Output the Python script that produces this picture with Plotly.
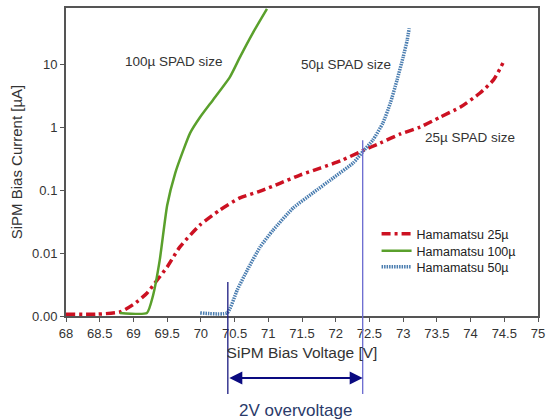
import math
import plotly.graph_objects as go

# ---- data ----
v25 = [68.0, 68.46, 68.80, 68.99, 69.20, 69.35, 69.50, 69.69, 69.99, 70.28, 70.58, 70.88,
       71.18, 71.47, 71.77, 72.07, 72.39, 72.66, 72.96, 73.25, 73.55, 73.85, 74.14, 74.34, 74.48]
i25 = [0.00107, 0.00107, 0.00116, 0.0015, 0.0023, 0.0037, 0.006, 0.0125, 0.028, 0.048, 0.075, 0.096,
       0.129, 0.173, 0.223, 0.29, 0.417, 0.557, 0.776, 1.0, 1.44, 2.08, 3.47, 5.6, 10.4]

v100 = [68.80, 69.20, 69.29, 69.39, 69.50, 69.62, 69.74, 69.84, 69.99, 70.18, 70.43, 70.58, 70.77, 70.98]
i100 = [0.00112, 0.00112, 0.0021, 0.0077, 0.057, 0.186, 0.43, 0.80, 1.44, 2.69, 6.2, 12.9, 31, 75]

v50 = [69.99, 70.39, 70.54, 70.69, 70.88, 71.07, 71.37, 71.66, 71.96, 72.26, 72.41, 72.55,
       72.70, 72.81, 72.91, 73.00, 73.06, 73.09]
i50 = [0.00112, 0.00112, 0.0026, 0.0054, 0.0125, 0.023, 0.052, 0.0896, 0.155, 0.27, 0.417, 0.62,
       1.16, 2.4, 5.6, 12.9, 24, 37]

x_ticks = [68, 68.5, 69, 69.5, 70, 70.5, 71, 71.5, 72, 72.5, 73, 73.5, 74, 74.5, 75]
y_tickvals = [0.001, 0.01, 0.1, 1, 10]
y_ticktext = ["0.00", "0.01", "0.1", "1", "10"]

v_start = 70.4   # breakdown marker
v_end = 72.4     # operating point marker

labels = [("100µ SPAD size", 69.595, 10.8), ("50µ SPAD size", 72.154, 10.0), ("25µ SPAD size", 73.994, 0.69)]

FONT = "Liberation Sans, Arial, sans-serif"

fig = go.Figure()
fig.add_trace(go.Scatter(x=v25, y=i25, mode="lines", name="Hamamatsu 25µ", legend="legend",
                         line=dict(color="#cc1122", width=3.5, dash="9px,4px,3px,4px",
                                   shape="spline", smoothing=0.6)))
fig.add_trace(go.Scatter(x=v100, y=i100, mode="lines", name="Hamamatsu 100µ", legend="legend2",
                         line=dict(color="#5aa02c", width=2.5, shape="spline", smoothing=0.5)))
fig.add_trace(go.Scatter(x=v50, y=i50, mode="lines", name="Hamamatsu 50µ", legend="legend3",
                         line=dict(color="#4a7db0", width=3.5, dash="1.5px,1px",
                                   shape="spline", smoothing=0.5)))

# vertical marker lines
fig.add_shape(type="line", xref="x", yref="paper", x0=v_start, x1=v_start, y0=-0.253, y1=0.110,
              line=dict(color="#1a1a80", width=1.3))
fig.add_shape(type="line", xref="x", yref="paper", x0=v_end, x1=v_end, y0=-0.253, y1=0.571,
              line=dict(color="#6a6ad0", width=1.3))

# double arrow
fig.add_annotation(x=v_end, y=-0.201, xref="x", yref="paper", ax=v_start, ay=0, axref="x", ayref="pixel",
                   text="", showarrow=True, arrowhead=2, startarrowhead=2, arrowside="end+start",
                   arrowsize=1.3, arrowwidth=2, arrowcolor="#0a0a80", standoff=0, startstandoff=0)
fig.add_annotation(x=(v_start + v_end) / 2, y=-0.306, xref="x", yref="paper", text="2V overvoltage",
                   showarrow=False, font=dict(family=FONT, size=17, color="#2a3a6a"), yanchor="middle")

for txt, xv, yv in labels:
    fig.add_annotation(x=xv, y=math.log10(yv), xref="x", yref="y", text=txt, showarrow=False,
                       font=dict(family=FONT, size=13.5, color="#333333"))

leg_common = dict(xanchor="left", yanchor="middle", bgcolor="rgba(0,0,0,0)",
                  font=dict(family=FONT, size=12.5, color="#222222"), itemwidth=30)

fig.update_layout(
    width=546, height=420,
    margin=dict(l=66, r=8, t=8, b=104, autoexpand=False),
    paper_bgcolor="white", plot_bgcolor="white",
    font=dict(family=FONT, size=13, color="#333333"),
    showlegend=True,
    legend=dict(x=0.658, y=0.266, **leg_common),
    legend2=dict(x=0.658, y=0.211, **leg_common),
    legend3=dict(x=0.658, y=0.159, **leg_common),
    xaxis=dict(range=[68, 75], tickvals=x_ticks, ticktext=[f"{t:g}" for t in x_ticks],
               showgrid=False, zeroline=False, showline=True, linecolor="#555555", linewidth=2,
               mirror=True, ticks="outside", ticklen=4, tickcolor="#555555", automargin=False,
               tickfont=dict(family=FONT, size=13, color="#333333"),
               title=dict(text="SiPM Bias Voltage [V]", standoff=8,
                          font=dict(family=FONT, size=15.5, color="#333333"))),
    yaxis=dict(type="log", range=[-3, 1.89], tickvals=y_tickvals, ticktext=y_ticktext,
               showgrid=False, zeroline=False, showline=True, linecolor="#555555", linewidth=2,
               mirror=True, ticks="outside", ticklen=4, tickcolor="#555555", automargin=False,
               tickfont=dict(family=FONT, size=13, color="#333333"),
               title=dict(text="SiPM Bias Current [µA]", standoff=6,
                          font=dict(family=FONT, size=15, color="#333333"))),
)

fig.write_html("out.html")
